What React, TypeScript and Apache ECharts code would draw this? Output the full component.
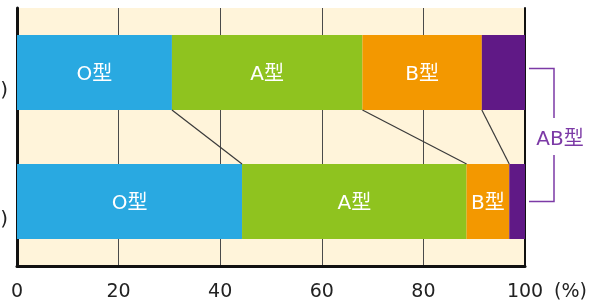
import React, { useEffect, useRef } from "react";
import * as echarts from "echarts";

const categories = ["(日本)", "(アメリカ)"];
const typeNames = ["O型", "A型", "B型", "AB型"];
const oValues = [30.5, 44.3];
const aValues = [37.5, 44.2];
const bValues = [23.5, 8.4];
const abValues = [8.5, 3.1];
const xTicks = [0, 20, 40, 60, 80, 100];
const bracketLabel = "AB型";
const unitLabel = "(%)";

const COLORS = ["#29a9e1", "#8fc31f", "#f39800", "#601986"];
const PURPLE = "#7c3aa6";
const FONT = "'DejaVu Sans', 'Noto Sans CJK JP', sans-serif";
const GRID = { left: 17, right: 77, top: 8, bottom: 37 };
const BAR_W = 75;

export default function App() {
  const ref = useRef<HTMLDivElement>(null);
  useEffect(() => {
    if (!ref.current) return;
    const chart = echarts.init(ref.current, null, { renderer: "svg" });
    const seriesValues = [oValues, aValues, bValues, abValues];
    const cum = (idx: number, k: number) => {
      let s = 0;
      for (let j = 0; j <= k; j++) s += seriesValues[j][idx];
      return s;
    };
    const connectors = [0, 1, 2].map((k) => [cum(0, k), cum(1, k), 0]);

    const bars = typeNames.map((name, i) => ({
      name,
      type: "bar",
      stack: "total",
      barWidth: BAR_W,
      yAxisIndex: 0,
      data: seriesValues[i],
      itemStyle: { color: COLORS[i] },
      label: {
        show: i < 3,
        position: "inside",
        formatter: "{a}",
        color: "#ffffff",
        fontSize: 20,
        fontFamily: FONT,
      },
    }));

    chart.setOption({
      animation: false,
      grid: {
        ...GRID,
        containLabel: false,
        outerBoundsMode: "none",
        show: true,
        backgroundColor: "#fff4da",
        borderWidth: 0,
      },
      xAxis: {
        type: "value",
        min: xTicks[0],
        max: xTicks[xTicks.length - 1],
        interval: xTicks[1] - xTicks[0],
        axisLine: { show: true, lineStyle: { color: "#111", width: 3 } },
        axisTick: { show: false },
        splitLine: { show: true, lineStyle: { color: "#4a4a4a", width: 1 } },
        axisLabel: { fontSize: 19, color: "#222", margin: 14, fontFamily: FONT },
      },
      yAxis: [
        {
          type: "category",
          inverse: true,
          data: categories,
          axisLine: { show: true, lineStyle: { color: "#111", width: 3 } },
          axisTick: { show: false },
          axisLabel: {
            fontSize: 20,
            color: "#222",
            margin: 9,
            lineHeight: 33,
            formatter: (v: string) => "\n" + v,
            fontFamily: FONT,
          },
        },
        {
          type: "category",
          inverse: true,
          position: "right",
          data: categories,
          axisLine: { show: true, lineStyle: { color: "#111", width: 2 } },
          axisTick: { show: false },
          axisLabel: { show: false },
        },
      ],
      series: [
        ...bars,
        {
          type: "custom",
          coordinateSystem: "cartesian2d",
          xAxisIndex: 0,
          yAxisIndex: 0,
          encode: { x: [0, 1], y: 2 },
          data: connectors,
          z: 3,
          renderItem: (params: any, api: any) => {
            const a = api.coord([api.value(0), 0]);
            const b = api.coord([api.value(1), 1]);
            const half = BAR_W / 2;
            return {
              type: "line",
              shape: { x1: a[0], y1: a[1] + half, x2: b[0], y2: b[1] - half },
              style: { stroke: "#3a3a3a", lineWidth: 1.2 },
            };
          },
        },
      ],
    });

    const p1 = chart.convertToPixel({ xAxisIndex: 0, yAxisIndex: 0 }, [100, 0]) as number[];
    const p2 = chart.convertToPixel({ xAxisIndex: 0, yAxisIndex: 0 }, [100, 1]) as number[];
    const x0 = p1[0] + 4;
    const x1 = p1[0] + 29;
    const yt = p1[1] - 4;
    const yb = p2[1];
    const mid = (yt + yb) / 2 + 1;
    const axisY = 303 - GRID.bottom;

    chart.setOption({
      graphic: [
        {
          type: "polyline",
          shape: { points: [[x0, yt], [x1, yt], [x1, mid - 18]] },
          style: { stroke: PURPLE, lineWidth: 1.5, fill: null },
        },
        {
          type: "polyline",
          shape: { points: [[x1, mid + 19], [x1, yb], [x0, yb]] },
          style: { stroke: PURPLE, lineWidth: 1.5, fill: null },
        },
        {
          type: "text",
          x: x1 + 6,
          y: mid + 2,
          style: {
            text: bracketLabel,
            fill: PURPLE,
            fontSize: 20,
            fontFamily: FONT,
            textAlign: "center",
            textVerticalAlign: "middle",
          },
        },
        {
          type: "text",
          x: p1[0] + 29,
          y: axisY + 14 + 10,
          style: {
            text: unitLabel,
            fill: "#222",
            fontSize: 19,
            fontFamily: FONT,
            textAlign: "left",
            textVerticalAlign: "middle",
          },
        },
      ],
    });

    return () => chart.dispose();
  }, []);
  return (
    <div
      ref={ref}
      style={{ position: "fixed", left: 0, top: 0, width: 602, height: 303 }}
    />
  );
}
